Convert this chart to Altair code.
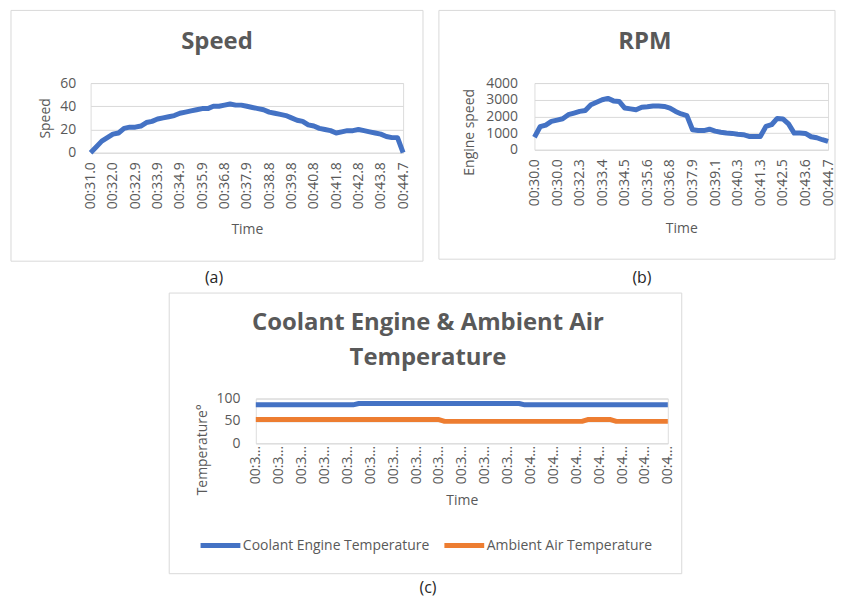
import json
import altair as alt
import pandas as pd

# ---------------- data ----------------
speed_labels = ["00:31.0", "00:32.0", "00:32.9", "00:33.9", "00:34.9", "00:35.9", "00:36.8",
                "00:37.9", "00:38.8", "00:39.8", "00:40.8", "00:41.8", "00:42.8", "00:43.8", "00:44.7"]
speed_values = [0, 5, 10, 13, 16, 17, 21, 22, 22, 23, 26, 27, 29, 30, 31, 32,
                34, 35, 36, 37, 38, 38, 40, 40, 41, 42, 41, 41, 40, 39, 38, 37,
                35, 34, 33, 32, 30, 28, 27, 24, 23, 21, 20, 19, 17, 18, 19, 19,
                20, 19, 18, 17, 16, 14, 13, 13, 0]

rpm_labels = ["00:30.0", "00:30.0", "00:32.3", "00:33.4", "00:34.5", "00:35.6", "00:36.8",
              "00:37.9", "00:39.1", "00:40.3", "00:41.3", "00:42.5", "00:43.6", "00:44.7"]
rpm_values = [750, 1380, 1480, 1700, 1780, 1860, 2100, 2200, 2300, 2350, 2700, 2850,
              3000, 3080, 2930, 2900, 2500, 2450, 2400, 2550, 2580, 2620, 2620, 2600,
              2500, 2300, 2150, 2050, 1200, 1150, 1150, 1230, 1120, 1050, 1000, 980,
              930, 900, 800, 800, 800, 1400, 1500, 1880, 1850, 1550, 1000, 1000,
              980, 780, 720, 600, 500]

temp_labels = ["00:30.0", "00:30.0", "00:31.1", "00:32.3", "00:33.4", "00:34.5", "00:35.6",
               "00:36.8", "00:37.3", "00:37.9", "00:38.5", "00:39.1", "00:40.3", "00:40.8",
               "00:41.3", "00:42.5", "00:43.0", "00:43.6", "00:44.7"]
coolant_values = [86, 86, 86, 86, 86, 86, 86, 86, 86, 86, 86, 86, 86, 86, 86, 86, 86, 86,
                  89, 89, 89, 89, 89, 89, 89, 89, 89, 89,
                  89, 89, 89, 89, 89, 89, 89, 89, 89, 89,
                  89, 89, 89, 89, 89, 89, 89, 89, 89,
                  86, 86, 86, 86, 86, 86, 86, 86, 86, 86,
                  86, 86, 86, 86, 86, 86, 86, 86, 86, 86,
                  86, 86, 86, 86, 86, 86]
ambient_values = [53, 53, 53, 53, 53, 53, 53, 53, 53, 53,
                  53, 53, 53, 53, 53, 53, 53, 53, 53, 53,
                  53, 53, 53, 53, 53, 53, 53, 53, 53, 53,
                  53, 53, 53,
                  49, 49, 49, 49, 49, 49, 49, 49, 49, 49,
                  49, 49, 49, 49, 49, 49, 49, 49, 49, 49,
                  49, 49, 49, 49, 49,
                  53, 53, 53, 53, 53,
                  49, 49, 49, 49, 49, 49, 49, 49, 49, 49]
series_names = ["Coolant Engine Temperature", "Ambient Air Temperature"]
series_colors = ["#4472C4", "#ED7D31"]

# ---------------- style ----------------
FONT = "Open Sans"
GREY = "#595959"
GRID = "#D9D9D9"
LINE_W = 5


def label_expr(labels, step):
    arr = "[" + ",".join(json.dumps(s) for s in labels) + "]"
    return f"{arr}[round(datum.value / {step})]"


ONE = pd.DataFrame({"k": [0]})


def box(x0, y0, x1, y1, **kw):
    return alt.Chart(ONE).mark_rect(**kw).encode(
        x=alt.value(x0), x2=alt.value(x1), y=alt.value(y0), y2=alt.value(y1))


def decorations(origin, layout, frame, titles, caption):
    ox, oy = origin
    out = []
    lx0, ly0, lx1, ly1 = layout
    out.append(box(lx0 - ox, ly0 - oy, lx1 - ox, ly1 - oy, opacity=0))
    fx0, fy0, fx1, fy1 = frame
    out.append(box(fx0 - ox, fy0 - oy, fx1 - ox, fy1 - oy,
                   fill="white", fillOpacity=0, stroke=GRID, strokeWidth=1))
    for tx, ty, txt in titles:
        out.append(alt.Chart(ONE).mark_text(text=txt, font=FONT, fontSize=24, fontWeight="bold",
                                            color=GREY, align="center", baseline="middle").encode(
            x=alt.value(tx - ox), y=alt.value(ty - oy)))
    cx, cy, ctxt = caption
    out.append(alt.Chart(ONE).mark_text(text=ctxt, font=FONT, fontSize=16, color="#262626",
                                        align="center", baseline="middle").encode(
        x=alt.value(cx - ox), y=alt.value(cy - oy)))
    return out


def x_axis(labels, n_points, width, title_y, pad, limit=200):
    step = (n_points - 1) // (len(labels) - 1)
    return alt.X("i:Q",
                 scale=alt.Scale(domain=[0, n_points - 1], nice=False, zero=False),
                 axis=alt.Axis(values=list(range(0, n_points, step)),
                               labelExpr=label_expr(labels, step),
                               labelAngle=-90, labelFlush=False, labelOverlap=False,
                               labelLimit=limit, grid=False, ticks=False, domain=False,
                               labelFont=FONT, labelFontSize=14, labelColor=GREY, labelPadding=pad,
                               title="Time", titleFont=FONT, titleFontSize=14, titleFontWeight="normal",
                               titleColor=GREY, titleX=width / 2, titleY=title_y,
                               titleBaseline="middle", titleAlign="center"))


def y_axis(domain, values, title, tx, ty, pad):
    return alt.Y("v:Q",
                 scale=alt.Scale(domain=domain, nice=False, zero=True),
                 axis=alt.Axis(values=values, format="d", grid=True, gridColor=GRID, gridWidth=1,
                               ticks=False, domain=False, labelFont=FONT, labelFontSize=14,
                               labelColor=GREY, labelPadding=pad,
                               title=title, titleFont=FONT, titleFontSize=14, titleFontWeight="normal",
                               titleColor=GREY, titleX=tx, titleY=ty, titleAngle=-90,
                               titleBaseline="middle", titleAlign="center"))


# ---------------- panel (a) Speed ----------------
A_ORIG = (90, 81)
A_W, A_H = 314, 70
df_a = pd.DataFrame({"i": list(range(len(speed_values))), "v": speed_values})
line_a = alt.Chart(df_a).mark_line(color=series_colors[0], strokeWidth=LINE_W, strokeJoin="round").encode(
    x=x_axis(speed_labels, len(speed_values), A_W, 77, 9),
    y=y_axis([0, 60], [0, 20, 40, 60], "Speed", -45, 35, 15),
)
panel_a = alt.layer(
    *decorations(A_ORIG, (8, 8, 431, 290), (10, 8, 424, 260), [(217, 40, "Speed")], (214, 277, "(a)")),
    line_a,
).properties(width=A_W, height=A_H)

# ---------------- panel (b) RPM ----------------
B_ORIG = (534, 81)
B_W, B_H = 295, 67
df_b = pd.DataFrame({"i": list(range(len(rpm_values))), "v": rpm_values})
line_b = alt.Chart(df_b).mark_line(color=series_colors[0], strokeWidth=LINE_W, strokeJoin="round").encode(
    x=x_axis(rpm_labels, len(rpm_values), B_W, 79, 9),
    y=y_axis([0, 4000], [0, 1000, 2000, 3000, 4000], "Engine speed", -65, 49, 17),
)
panel_b = alt.layer(
    *decorations(B_ORIG, (431, 8, 836, 290), (438, 8, 836, 258), [(645, 40, "RPM")], (642, 277, "(b)")),
    line_b,
).properties(width=B_W, height=B_H)

# ---------------- panel (c) Temperatures ----------------
C_ORIG = (255, 396)
C_W, C_H = 414, 45
C_LEFT = 168
rows = []
for name, vals in zip(series_names, [coolant_values, ambient_values]):
    for idx, val in enumerate(vals):
        rows.append({"i": idx, "v": val, "series": name})
df_c = pd.DataFrame(rows)
line_c = alt.Chart(df_c).mark_line(strokeWidth=LINE_W, strokeJoin="round").encode(
    x=x_axis(temp_labels, len(coolant_values), C_W, 57, 2, limit=42),
    y=y_axis([0, 100], [0, 50, 100], "Temperature°", -54, 51, 16),
    color=alt.Color("series:N",
                    scale=alt.Scale(domain=series_names, range=series_colors),
                    legend=alt.Legend(orient="none", legendX=-58, legendY=125, direction="horizontal",
                                      title=None, symbolType="stroke", symbolSize=1600,
                                      symbolStrokeWidth=5, labelFont=FONT, labelFontSize=14,
                                      labelColor=GREY, labelOffset=0, columnPadding=4, padding=0,
                                      labelLimit=400)),
    detail="series:N",
)
panel_c = alt.layer(
    *decorations(C_ORIG, (C_LEFT, 290, 683, 593), (C_LEFT, 290, 683, 572),
                 [(428, 320, "Coolant Engine & Ambient Air"), (428, 355, "Temperature")],
                 (428, 586, "(c)")),
    line_c,
).properties(width=C_W, height=C_H)

# invisible spacer: its origin lines up with panel (a)'s plot origin, it pushes (c) right
SPACER_W = C_LEFT - A_ORIG[0]
spacer = box(0, 0, SPACER_W, 1, opacity=0).properties(
    width=SPACER_W, height=1, view=alt.ViewBackground(strokeOpacity=0, fillOpacity=0))

top_row = alt.hconcat(panel_a, panel_b, spacing=0)
bottom_row = alt.hconcat(spacer, panel_c, spacing=0) \
    .resolve_scale(color="independent").resolve_legend(color="independent")

chart = alt.vconcat(top_row, bottom_row, spacing=0).properties(padding=0) \
    .configure_view(stroke=None).configure(font=FONT)

chart.save("out.html", embed_options={"renderer": "svg", "actions": False})
